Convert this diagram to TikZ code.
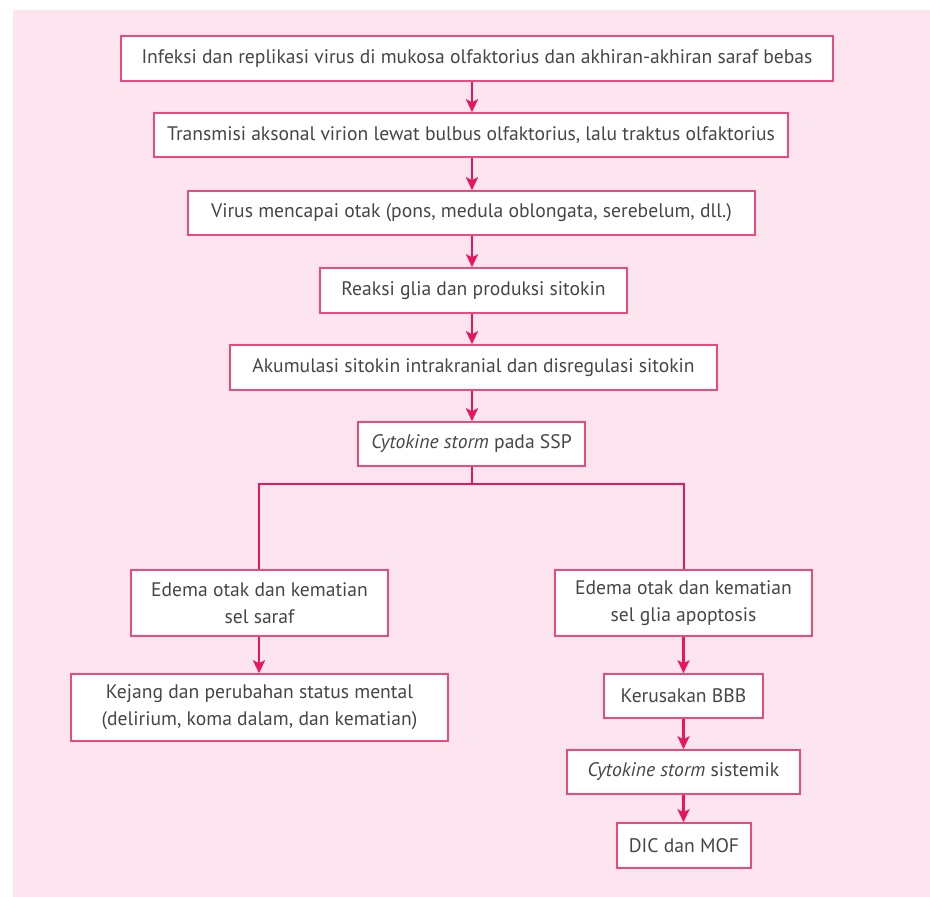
\documentclass[tikz,border=0pt]{standalone}
\usepackage{fontspec}
\setmainfont{PT Sans}
\usetikzlibrary{arrows.meta,positioning}
\definecolor{bgpink}{HTML}{FCE5EF}
\definecolor{boxline}{HTML}{EC4A7C}
\definecolor{arrowc}{HTML}{E8175D}
\definecolor{txt}{HTML}{464646}
\tikzset{
  fbox/.style={draw=boxline, line width=1.5pt, fill=white, text=txt, inner sep=0pt,
    font=\fontsize{19.6}{27}\selectfont, align=center},
  arr/.style={draw=arrowc, line width=2.5pt, -{Stealth[length=13pt,width=12pt,inset=3pt]}},
  link/.style={draw=arrowc, line width=2.5pt}
}
\begin{document}
\begin{tikzpicture}[x=1pt,y=-1pt]
\useasboundingbox (0,0) rectangle (930,897);
\fill[bgpink] (13,10) rectangle (930,897);
\coordinate (sp) at (472,0);
\coordinate (lb) at (259,0);
\coordinate (rb) at (684,0);
\node[fbox, minimum width=712pt, minimum height=45pt] (b1) at (477,58.5) {Infeksi dan replikasi virus di mukosa olfaktorius dan akhiran-akhiran saraf bebas};
\node[fbox, minimum width=634pt, minimum height=44pt] (b2) at (471,135) {Transmisi aksonal virion lewat bulbus olfaktorius, lalu traktus olfaktorius};
\node[fbox, minimum width=567pt, minimum height=44pt] (b3) at (471.5,213) {Virus mencapai otak (pons, medula oblongata, serebelum, dll.)};
\node[fbox, minimum width=307pt, minimum height=45pt] (b4) at (473.5,290.5) {Reaksi glia dan produksi sitokin};
\node[fbox, minimum width=487pt, minimum height=45pt] (b5) at (473.5,367.5) {Akumulasi sitokin intrakranial dan disregulasi sitokin};
\node[fbox, minimum width=227pt, minimum height=44pt] (b6) at (471.5,444) {\textit{Cytokine storm} pada SSP};
\node[fbox, minimum width=257pt, minimum height=66pt] (b7) at (259.5,603) {Edema otak dan kematian\\sel saraf};
\node[fbox, minimum width=257pt, minimum height=66pt] (b8) at (683.5,603) {Edema otak dan kematian\\sel glia apoptosis};
\node[fbox, minimum width=377pt, minimum height=67pt] (b9) at (259.5,707.5) {Kejang dan perubahan status mental\\(delirium, koma dalam, dan kematian)};
\node[fbox, minimum width=159pt, minimum height=44pt] (b10) at (683.5,696) {Kerusakan BBB};
\node[fbox, minimum width=233pt, minimum height=44pt] (b11) at (683.5,772) {\textit{Cytokine storm} sistemik};
\node[fbox, minimum width=134pt, minimum height=45pt] (b12) at (684,845.5) {DIC dan MOF};
\coordinate (jn) at (472,484);
\draw[arr] (b1.south -| sp) -- (b2.north -| sp);
\draw[arr] (b2.south -| sp) -- (b3.north -| sp);
\draw[arr] (b3.south -| sp) -- (b4.north -| sp);
\draw[arr] (b4.south -| sp) -- (b5.north -| sp);
\draw[arr] (b5.south -| sp) -- (b6.north -| sp);
\draw[link] (b6.south -| sp) -- (jn);
\draw[link, line join=miter] (b7.north -| lb) -- (jn -| lb) -- (jn -| rb) -- (b8.north -| rb);
\draw[arr] (b7.south -| lb) -- (b9.north -| lb);
\draw[arr] (b8.south -| b10) -- (b10.north);
\draw[arr] (b10.south) -- (b11.north -| b10);
\draw[arr] (b11.south -| b10) -- (b12.north -| b10);
\end{tikzpicture}
\end{document}
